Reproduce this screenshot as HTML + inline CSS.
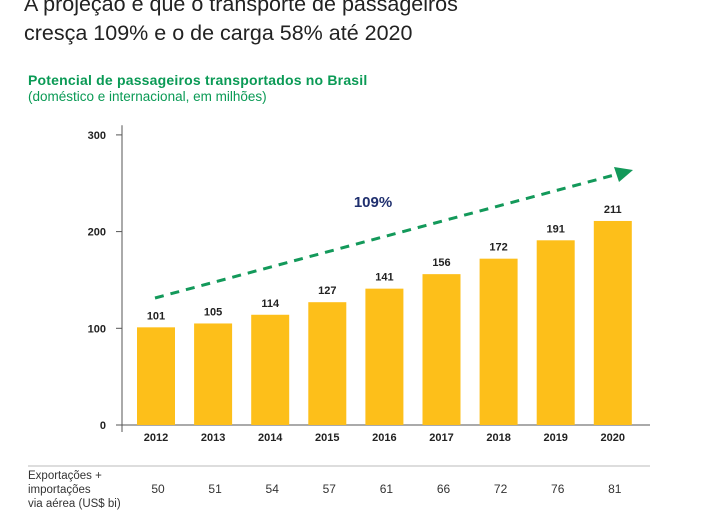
<!DOCTYPE html>
<html><head><meta charset="utf-8"><style>
body{margin:0;background:#fff;width:722px;height:505px;overflow:hidden;font-family:"Liberation Sans",Arial,sans-serif;position:relative}
.t{position:absolute;white-space:nowrap}
</style></head><body>
<div class="t" style="left:24px;top:-10px;font-size:21.5px;color:#222;line-height:29px">A projeção é que o transporte de passageiros<br>cresça 109% e o de carga 58% até 2020</div>
<div class="t" style="left:28px;top:72px;font-size:14px;font-weight:bold;color:#0a9a55;letter-spacing:0.2px">Potencial de passageiros transportados no Brasil</div>
<div class="t" style="left:28px;top:89px;font-size:13.5px;color:#0a9a55">(doméstico e internacional, em milhões)</div>
<svg id="c" width="722" height="505" style="position:absolute;left:0;top:0"></svg>
<div class="t" style="left:28px;top:469px;font-size:11.5px;color:#333;line-height:14px">Exportações +<br>importações<br>via aérea (US$ bi)</div>
<script>
const years=["2012","2013","2014","2015","2016","2017","2018","2019","2020"];
const passengers=[101,105,114,127,141,156,172,191,211];
const cargo=[50,51,54,57,61,66,72,76,81];
const yTicks=[0,100,200,300];
const ns="http://www.w3.org/2000/svg",svg=document.getElementById('c');
const x=i=>156+i*57.1, y=v=>425-v*0.967;
function mk(t,a,txt){const e=document.createElementNS(ns,t);for(const k in a)e.setAttribute(k,a[k]);if(txt!=null)e.textContent=txt;svg.appendChild(e);return e;}
let e=mk('line',{x1:122,y1:y(310),x2:122,y2:432,stroke:'#555','stroke-width':1});

e=mk('line',{x1:116,y1:425,x2:650,y2:425,stroke:'#555','stroke-width':1});

yTicks.forEach(v=>{
 mk('line',{x1:116,y1:y(v),x2:122,y2:y(v),stroke:'#555'});
 e=mk('text',{x:106,y:y(v)+4,'text-anchor':'end','font-size':11,'font-weight':'bold',fill:'#222'},v);
 
});
years.forEach((yr,i)=>{
 e=mk('rect',{x:x(i)-19,y:y(passengers[i]),width:38,height:425-y(passengers[i]),fill:'#fdbf1a'});
 
 e=mk('text',{x:x(i),y:y(passengers[i])-8,'text-anchor':'middle','font-size':11,'font-weight':'bold',fill:'#222'},passengers[i]);
 
 e=mk('text',{x:x(i),y:441,'text-anchor':'middle','font-size':11,'font-weight':'bold',fill:'#222'},yr);
 
 e=mk('text',{x:x(i)+2,y:493,'text-anchor':'middle','font-size':12,fill:'#333'},cargo[i]);
 
});
e=mk('line',{x1:28,y1:466,x2:650,y2:466,stroke:'#bbb'});

e=mk('line',{x1:155,y1:298,x2:618,y2:174,stroke:'#13995a','stroke-width':3,'stroke-dasharray':'9,7'});

e=mk('polygon',{points:'633,170 614,167 619,182',fill:'#13995a'});

e=mk('text',{x:373,y:207,'text-anchor':'middle','font-size':15,'font-weight':'bold',fill:'#1f2f6e'},'109%');

</script>
</body></html>
